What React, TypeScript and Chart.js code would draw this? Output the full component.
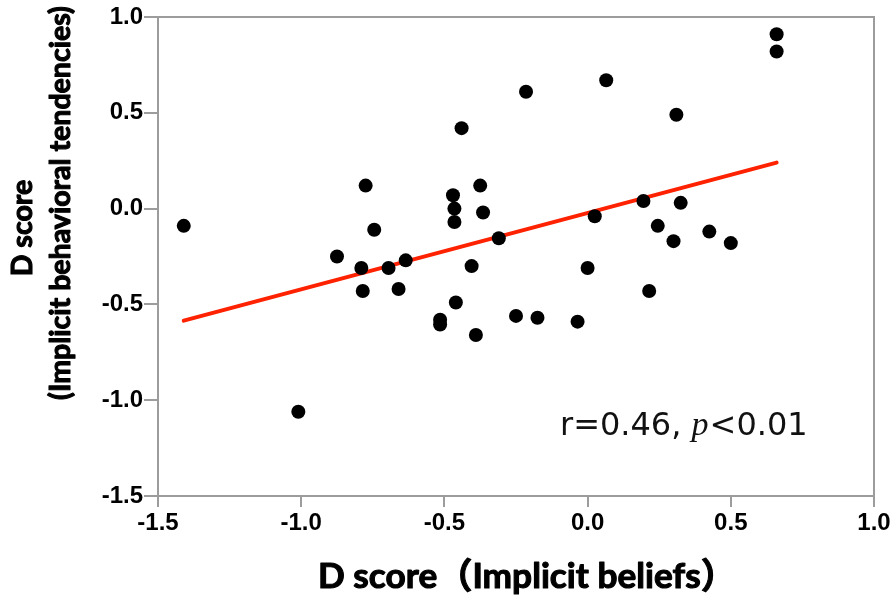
import React, { useEffect, useRef } from 'react';
import { Chart, registerables } from 'chart.js';

Chart.register(...registerables);

// Implicit beliefs D score (x) and implicit behavioral tendencies D score (y)
const beliefs = [
  -1.41, -1.01, -0.875, -0.79, -0.785, -0.775, -0.745, -0.695, -0.66, -0.635,
  -0.515, -0.515, -0.47, -0.465, -0.465, -0.46, -0.44, -0.405, -0.39, -0.375,
  -0.365, -0.31, -0.25, -0.215, -0.175, -0.035, 0.0, 0.025, 0.065, 0.195,
  0.215, 0.245, 0.3, 0.31, 0.325, 0.425, 0.5, 0.66, 0.66,
];
const tendencies = [
  -0.09, -1.06, -0.25, -0.31, -0.43, 0.12, -0.11, -0.31, -0.42, -0.27,
  -0.58, -0.605, 0.07, 0.0, -0.07, -0.49, 0.42, -0.3, -0.66, 0.12,
  -0.02, -0.155, -0.56, 0.61, -0.57, -0.59, -0.31, -0.04, 0.67, 0.04,
  -0.43, -0.09, -0.17, 0.49, 0.03, -0.12, -0.18, 0.91, 0.82,
];

// Regression line end points
const fitX = [-1.41, 0.66];
const fitY = [-0.585, 0.24];

const xTicks = [-1.5, -1.0, -0.5, 0.0, 0.5, 1.0];
const yTicks = [-1.5, -1.0, -0.5, 0.0, 0.5, 1.0];

const xTitle = 'D score（Implicit beliefs）';
const yTitle = ['D score', '(Implicit behavioral tendencies)'];
const statParts = ['r=0.46, ', 'p', '<0.01'];

const TITLE_FAMILY = 'Lato, "Open Sans", "Noto Sans CJK SC", sans-serif';

function fitSize(ctx: CanvasRenderingContext2D, text: string, target: number) {
  ctx.font = `bold 100px ${TITLE_FAMILY}`;
  return (100 * target) / ctx.measureText(text).width;
}

function heavyText(ctx: CanvasRenderingContext2D, text: string, x: number, y: number) {
  ctx.fillText(text, x, y);
  ctx.strokeText(text, x, y);
}

const frameAndText = {
  id: 'frameAndText',
  afterDatasetsDraw(chart: any) {
    const { ctx, chartArea } = chart;
    ctx.save();
    ctx.strokeStyle = '#9c9c9c';
    ctx.lineWidth = 2;
    ctx.beginPath();
    ctx.moveTo(chartArea.left, chartArea.top);
    ctx.lineTo(chartArea.right, chartArea.top);
    ctx.lineTo(chartArea.right, chartArea.bottom);
    ctx.stroke();

    // statistics annotation
    let x = chartArea.left + 402;
    const y = chartArea.top + 418;
    ctx.fillStyle = '#111';
    ctx.textBaseline = 'alphabetic';
    ctx.textAlign = 'left';
    ctx.font = '32px "DejaVu Sans"';
    ctx.fillText(statParts[0], x, y);
    x += ctx.measureText(statParts[0]).width;
    ctx.font = 'italic 34px "Liberation Serif"';
    ctx.fillText(statParts[1], x, y);
    x += ctx.measureText(statParts[1]).width + 1;
    ctx.font = '32px "DejaVu Sans"';
    ctx.fillText(statParts[2], x, y);

    // x axis title
    ctx.fillStyle = '#000';
    ctx.strokeStyle = '#000';
    ctx.lineWidth = 1.1;
    ctx.lineJoin = 'round';
    const xs = fitSize(ctx, xTitle, 418);
    ctx.font = `bold ${xs}px ${TITLE_FAMILY}`;
    ctx.textAlign = 'left';
    ctx.textBaseline = 'alphabetic';
    heavyText(ctx, xTitle, 318, 588);

    // y axis title (two lines, rotated)
    const ys = fitSize(ctx, yTitle[1], 394);
    ctx.save();
    ctx.rotate(-Math.PI / 2);
    ctx.font = `bold ${ys}px ${TITLE_FAMILY}`;
    ctx.textAlign = 'center';
    ctx.textBaseline = 'middle';
    heavyText(ctx, yTitle[0], -228, 23);
    heavyText(ctx, yTitle[1], -203, 61);
    ctx.restore();
    ctx.restore();
  },
};

export default function App() {
  const ref = useRef<HTMLCanvasElement>(null);

  useEffect(() => {
    if (!ref.current) return;
    const points = beliefs.map((x, i) => ({ x, y: tendencies[i] }));
    const fit = fitX.map((x, i) => ({ x, y: fitY[i] }));
    const tickFont = { family: '"Liberation Sans", Arial, sans-serif', size: 24, weight: 'bold' as const };

    const chart = new Chart(ref.current, {
      type: 'scatter',
      data: {
        datasets: [
          {
            type: 'scatter',
            data: points,
            backgroundColor: '#000',
            borderWidth: 0,
            pointRadius: 7,
            pointHoverRadius: 7,
            order: 1,
          },
          {
            type: 'line',
            data: fit,
            borderColor: '#ff2200',
            borderWidth: 4,
            pointRadius: 0,
            fill: false,
            borderCapStyle: 'round',
            order: 2,
          } as any,
        ],
      },
      options: {
        responsive: false,
        animation: false,
        layout: { padding: { left: 0, top: 17, right: 20, bottom: 0 } },
        plugins: { legend: { display: false }, tooltip: { enabled: false } },
        scales: {
          x: {
            type: 'linear',
            min: -1.5,
            max: 1.0,
            afterBuildTicks: (s: any) => { s.ticks = xTicks.map((v) => ({ value: v })); },
            afterFit: (s: any) => { s.height = 107; },
            ticks: { font: tickFont, color: '#000', padding: 2, callback: (v: any) => Number(v).toFixed(1) },
            grid: { drawOnChartArea: false, drawTicks: true, tickLength: 11, color: '#9c9c9c', lineWidth: 2 },
            border: { display: true, color: '#9c9c9c', width: 2 },
            title: { display: false },
          },
          y: {
            type: 'linear',
            min: -1.5,
            max: 1.0,
            afterBuildTicks: (s: any) => { s.ticks = yTicks.map((v) => ({ value: v })); },
            afterFit: (s: any) => { s.width = 158; },
            ticks: { font: tickFont, color: '#000', padding: 1, callback: (v: any) => Number(v).toFixed(1) },
            grid: { drawOnChartArea: false, drawTicks: true, tickLength: 14, color: '#9c9c9c', lineWidth: 2 },
            border: { display: true, color: '#9c9c9c', width: 2 },
            title: { display: false },
          },
        },
      },
      plugins: [frameAndText],
    });
    return () => chart.destroy();
  }, []);

  return (
    <div style={{ position: 'absolute', left: 0, top: 0, width: 894, height: 603, background: '#fff' }}>
      <canvas ref={ref} width={894} height={603} style={{ display: 'block' }} />
    </div>
  );
}
